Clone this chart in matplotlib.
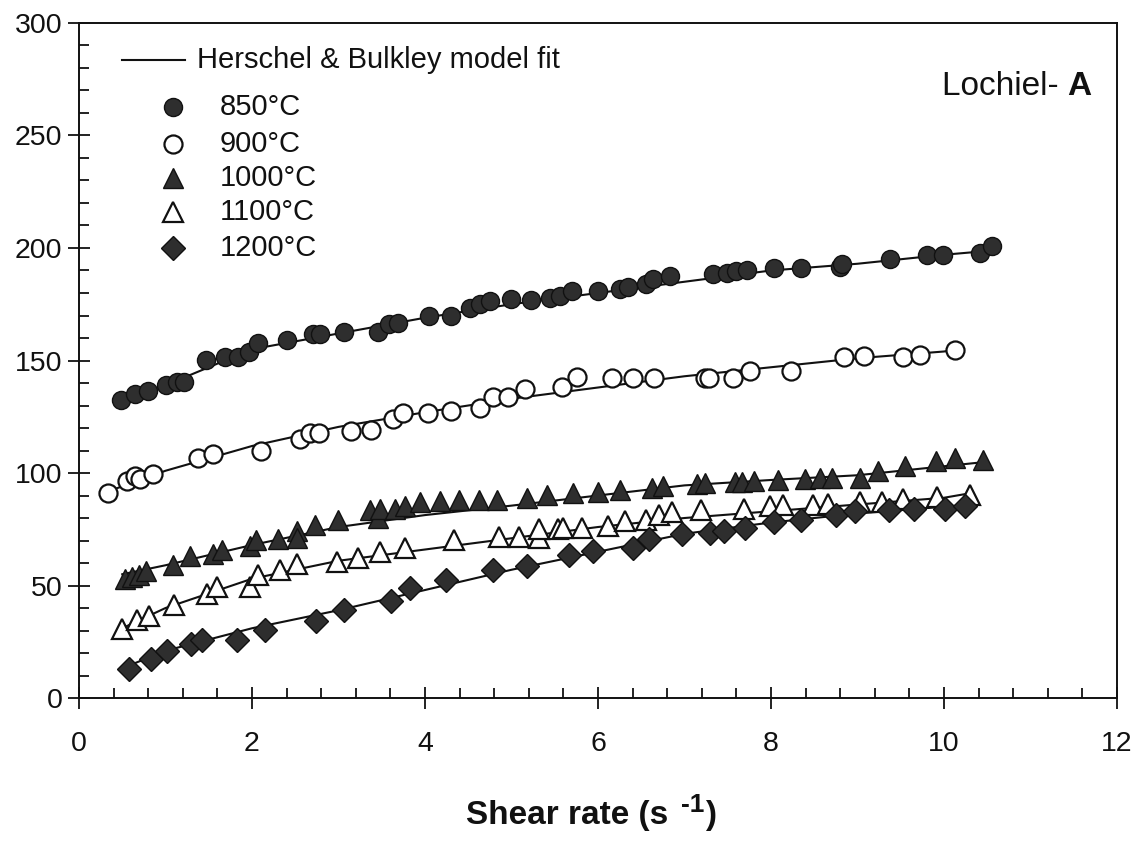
import matplotlib
matplotlib.use("Agg")
import matplotlib.pyplot as plt
from matplotlib.ticker import MultipleLocator

plt.rcParams['font.family'] = ['Liberation Sans', 'DejaVu Sans']

# ---- data ----
x850 = [0.49, 0.65, 0.80, 1.01, 1.13, 1.21, 1.47, 1.69, 1.84, 1.96, 2.07, 2.40, 2.71, 2.79,
        3.06, 3.46, 3.58, 3.69, 4.05, 4.30, 4.52, 4.64, 4.75, 5.00, 5.23, 5.45, 5.56, 5.70,
        6.00, 6.25, 6.35, 6.56, 6.64, 6.83, 7.33, 7.49, 7.60, 7.72, 8.03, 8.35, 8.80, 8.82,
        9.38, 9.80, 9.99, 10.42, 10.55]
y850 = [132.5, 134.9, 136.3, 139.3, 140.6, 140.6, 150.3, 151.4, 151.4, 153.6, 157.6, 159.1,
        161.7, 161.7, 162.5, 162.8, 166.2, 166.5, 169.9, 169.9, 173.3, 175.0, 176.6, 177.3,
        176.9, 177.8, 178.8, 181.0, 181.0, 181.8, 182.5, 184.0, 186.2, 187.7, 188.4, 189.1,
        189.6, 190.2, 190.9, 190.9, 191.7, 193.0, 195.0, 196.8, 196.8, 197.6, 201.0]

x900 = [0.34, 0.55, 0.65, 0.71, 0.86, 1.38, 1.55, 2.10, 2.56, 2.67, 2.78, 3.14, 3.38, 3.63,
        3.75, 4.04, 4.30, 4.64, 4.79, 4.96, 5.16, 5.58, 5.76, 6.16, 6.40, 6.65, 7.24, 7.28,
        7.56, 7.76, 8.23, 8.84, 9.07, 9.53, 9.72, 10.13]
y900 = [91.1, 96.4, 98.5, 97.5, 99.4, 106.8, 108.3, 110.0, 115.2, 117.7, 118.0, 118.6, 119.2,
        123.8, 126.6, 126.6, 127.5, 129.0, 133.7, 134.0, 137.4, 138.1, 142.5, 142.1, 142.1,
        142.1, 142.3, 142.1, 142.1, 145.5, 145.5, 151.4, 152.2, 151.7, 152.6, 154.7]

x1000 = [0.53, 0.61, 0.69, 0.78, 1.09, 1.28, 1.55, 1.65, 1.98, 2.05, 2.30, 2.52, 2.52, 2.73,
         2.99, 3.36, 3.46, 3.48, 3.65, 3.77, 3.94, 4.17, 4.39, 4.62, 4.83, 5.18, 5.41, 5.71,
         6.00, 6.25, 6.62, 6.75, 7.14, 7.24, 7.58, 7.66, 7.80, 8.08, 8.39, 8.57, 8.71, 9.03,
         9.24, 9.55, 9.91, 10.13, 10.45]
y1000 = [52.7, 53.8, 54.6, 56.5, 59.0, 63.0, 63.9, 65.7, 67.4, 70.1, 70.8, 74.2, 71.3, 76.8,
         79.3, 83.7, 79.8, 84.1, 84.1, 85.2, 87.1, 87.5, 88.1, 87.8, 88.1, 89.0, 90.1, 91.1,
         91.5, 92.6, 93.3, 94.1, 94.9, 95.5, 96.0, 96.0, 96.4, 97.1, 97.5, 97.9, 97.9, 97.9,
         100.9, 102.9, 105.3, 106.8, 105.6]

x1100 = [0.50, 0.67, 0.81, 1.10, 1.48, 1.60, 1.98, 2.07, 2.32, 2.52, 2.98, 3.22, 3.48, 3.77,
         4.33, 4.86, 5.09, 5.32, 5.32, 5.54, 5.60, 5.82, 6.12, 6.31, 6.56, 6.70, 6.86, 7.19,
         7.69, 7.99, 8.14, 8.49, 8.66, 9.03, 9.28, 9.53, 9.92, 10.30]
y1100 = [30.5, 34.6, 36.4, 41.3, 46.1, 49.4, 49.4, 54.6, 56.8, 59.4, 60.5, 62.4, 64.9, 66.8,
         70.1, 71.6, 71.6, 71.0, 75.3, 75.3, 75.7, 75.7, 76.3, 78.7, 79.3, 81.2, 82.7, 83.4,
         84.1, 85.2, 85.6, 85.6, 86.3, 87.1, 87.1, 88.6, 89.3, 90.1]

x1200 = [0.58, 0.83, 1.02, 1.30, 1.42, 1.83, 2.15, 2.74, 3.06, 3.61, 3.83, 4.24, 4.79, 5.18,
         5.66, 5.94, 6.41, 6.59, 6.97, 7.29, 7.46, 7.70, 8.03, 8.35, 8.75, 8.97, 9.36, 9.65,
         10.01, 10.24]
y1200 = [12.7, 17.2, 21.0, 24.2, 25.7, 26.0, 30.2, 34.3, 39.3, 43.2, 48.7, 52.4, 57.1, 58.6,
         63.4, 65.3, 66.8, 70.8, 72.8, 73.3, 74.2, 75.7, 78.2, 79.3, 81.2, 83.1, 83.7, 84.1,
         84.1, 85.2]

# Herschel & Bulkley fit curves
fx850 = [0.5, 1, 1.5, 2, 3, 4, 5, 6, 7, 8, 9, 10, 10.6]
fy850 = [133, 139, 147, 155, 162, 169, 175, 180, 185, 190, 193, 197, 199]
fx900 = [0.35, 1, 2, 3, 4, 5, 6, 7, 8, 9, 10, 10.15]
fy900 = [92, 101, 112, 120.5, 127, 133, 138, 143, 147, 151, 154, 155]
fx1000 = [0.5, 1, 2, 3, 4, 5, 6, 7, 8, 9, 10, 10.5]
fy1000 = [55, 59, 68, 76, 81.3, 85.5, 90, 94.5, 96.9, 99, 103, 105]
fx1100 = [0.5, 1, 2, 3, 4, 5, 6, 7, 8, 9, 10, 10.3]
fy1100 = [31, 40, 53, 61, 66, 71, 76, 80, 83, 86, 89, 91]
fx1200 = [0.55, 1, 2, 3, 4, 5, 6, 7, 8, 9, 10, 10.3]
fy1200 = [14, 21, 31, 39, 48, 57, 65, 73, 78, 82, 85, 86]

labels = ['850°C', '900°C', '1000°C', '1100°C', '1200°C']
fit_label = 'Herschel & Bulkley model fit'
xlabel_main = 'Shear rate (s'
xlabel_sup = '-1'
xlabel_end = ')'
panel = 'Lochiel- '
panel_bold = 'A'
xticks = [0, 2, 4, 6, 8, 10, 12]
yticks = [0, 50, 100, 150, 200, 250, 300]

# ---- styles ----
dark = '#2e2e2e'
ink = '#111111'
styles = [
    dict(marker='o', ms=13, mfc=dark, mec=ink, mew=1.0),
    dict(marker='o', ms=13, mfc='white', mec=ink, mew=1.6),
    dict(marker='^', ms=14, mfc=dark, mec=ink, mew=1.0),
    dict(marker='^', ms=14, mfc='white', mec=ink, mew=1.6),
    dict(marker='D', ms=12, mfc=dark, mec=ink, mew=1.0),
]
series = [(x850, y850), (x900, y900), (x1000, y1000), (x1100, y1100), (x1200, y1200)]
fits = [(fx850, fy850), (fx900, fy900), (fx1000, fy1000), (fx1100, fy1100), (fx1200, fy1200)]

fig = plt.figure(figsize=(11.4, 8.42), dpi=100)
ax = fig.add_axes([0.0693, 0.171, 0.9105, 0.8017])

for (fx, fy) in fits:
    ax.plot(fx, fy, color=ink, lw=1.5, zorder=2)
for (xs, ys), st in zip(series, styles):
    ax.plot(xs, ys, ls='none', zorder=3, **st)

ax.set_xlim(0, 12)
ax.set_ylim(0, 300)
ax.set_xticks(xticks)
ax.set_yticks(yticks)
ax.xaxis.set_minor_locator(MultipleLocator(0.4))
ax.yaxis.set_minor_locator(MultipleLocator(10))
ax.tick_params(axis='both', which='major', direction='inout', length=16, width=1.3,
               labelsize=20.5, colors=ink)
ax.tick_params(axis='x', which='major', pad=16)
ax.tick_params(axis='y', which='major', pad=4)
ax.tick_params(axis='both', which='minor', direction='in', length=7, width=1.3, colors=ink)
for sp in ax.spines.values():
    sp.set_linewidth(1.4)
    sp.set_color(ink)

# ---- x-axis title with a hyphen superscript ----
t1 = fig.text(466 / 1140, 1 - 824 / 842, xlabel_main, fontsize=24, fontweight='bold',
              ha='left', va='baseline', color=ink)
sup = ax.annotate(xlabel_sup, xy=(1, 0), xycoords=t1, xytext=(9, 10),
                  textcoords='offset points', fontsize=19, fontweight='bold',
                  ha='left', va='bottom', color=ink, annotation_clip=False)
ax.annotate(xlabel_end, xy=(1, 0), xycoords=(sup, t1), xytext=(1, 0),
            textcoords='offset points', fontsize=24, fontweight='bold',
            ha='left', va='bottom', color=ink, annotation_clip=False)

# ---- legend drawn in axes coordinates ----
ax.plot([0.0414, 0.102], [0.945, 0.945], transform=ax.transAxes, color=ink, lw=1.5)
ax.text(0.1137, 0.945, fit_label, transform=ax.transAxes, fontsize=21, va='center',
        ha='left', color=ink)
rows = [0.8756, 0.8207, 0.770, 0.720, 0.6667]
for lab, st, yy in zip(labels, styles, rows):
    ax.plot([0.0906], [yy], transform=ax.transAxes, ls='none', **st)
    ax.text(0.1358, yy, lab, transform=ax.transAxes, fontsize=21, va='center', ha='left',
            color=ink)

t = ax.text(0.831, 0.906, panel, transform=ax.transAxes, fontsize=24, va='center',
            ha='left', color=ink)
ax.annotate(panel_bold, xy=(1, 0), xycoords=t, va='bottom', ha='left', fontsize=24,
            fontweight='bold', color=ink)

fig.savefig('out.png', dpi=100)
